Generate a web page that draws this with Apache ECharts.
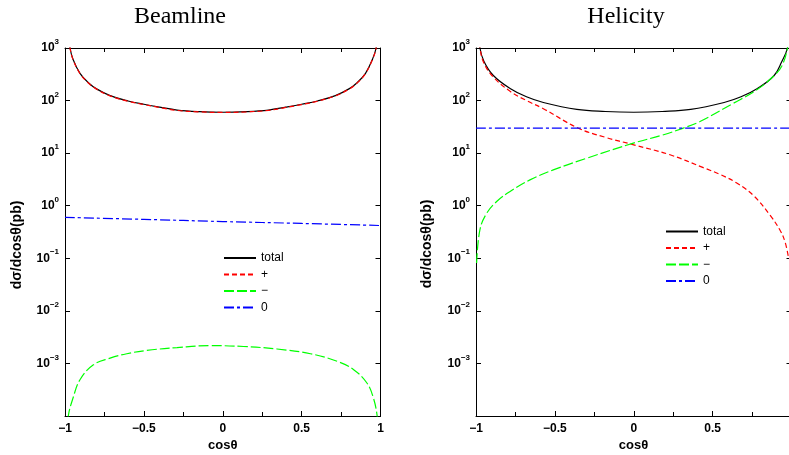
<!DOCTYPE html>
<html><head><meta charset="utf-8">
<script src="https://cdn.jsdelivr.net/npm/echarts@6/dist/echarts.min.js"></script>
<style>html,body{margin:0;padding:0;background:#fff}#c{width:789px;height:455px}</style>
</head><body><div id="c"></div>
<script>
// ---- Beamline panel data ----
const beamTotalX = [-0.99, -0.968, -0.95, -0.905, -0.85, -0.8, -0.714, -0.6, -0.5, -0.4, -0.29, -0.15, 0, 0.15, 0.29, 0.4, 0.5, 0.6, 0.714, 0.8, 0.85, 0.905, 0.95, 0.972, 0.99];
const beamTotal  = [3000, 1000, 620, 330, 216, 167, 124, 98, 85, 75, 66, 61.5, 60, 61.5, 66, 75, 85, 98, 124, 167, 216, 330, 620, 1000, 3000];
const beamPlus   = [2980, 995, 615, 327, 214, 165, 123, 97, 84, 74, 65, 61, 59.5, 61, 65, 74, 84, 97, 123, 165, 214, 327, 615, 995, 2980];
const beamMinusX = [-0.985, -0.979, -0.947, -0.905, -0.82, -0.714, -0.608, -0.481, -0.29, -0.079, 0.132, 0.344, 0.556, 0.725, 0.83, 0.915, 0.955, 0.979, 0.985];
const beamMinus  = [5e-5, 1e-4, 2.3e-4, 4.9e-4, 9.4e-4, 1.26e-3, 1.53e-3, 1.77e-3, 2.0e-3, 2.18e-3, 2.1e-3, 1.88e-3, 1.53e-3, 1.1e-3, 7.6e-4, 4.2e-4, 2.2e-4, 1e-4, 5e-5];
const beamZeroX  = [-1, -0.5, 0, 0.5, 1];
const beamZero   = [0.6, 0.55, 0.5, 0.46, 0.42];

// ---- Helicity panel data ----
const helTotalX = [-0.99, -0.975, -0.95, -0.89, -0.784, -0.68, -0.573, -0.361, -0.18, 0, 0.18, 0.361, 0.573, 0.68, 0.784, 0.89, 0.938, 0.974, 0.99];
const helTotal  = [3000, 1000, 560, 300, 170, 118, 92, 68, 62, 60, 62, 68, 92, 118, 170, 300, 550, 1000, 3000];
const helPlusX  = [-0.99, -0.975, -0.95, -0.89, -0.784, -0.68, -0.573, -0.353, -0.18, 0, 0.23, 0.441, 0.55, 0.653, 0.76, 0.864, 0.93, 0.96, 0.98];
const helPlus   = [2500, 1000, 520, 280, 150, 100, 70, 30, 20, 14.4, 9.3, 5.3, 3.9, 2.7, 1.55, 0.66, 0.33, 0.2, 0.107];
const helMinusX = [-0.996, -0.975, -0.932, -0.869, -0.784, -0.658, -0.51, -0.298, -0.003, 0.18, 0.315, 0.42, 0.632, 0.78, 0.885, 0.938, 0.974, 0.99];
const helMinus  = [0.081, 0.35, 0.72, 1.2, 1.86, 3.1, 4.8, 8.0, 15.5, 22, 30, 40, 89, 160, 290, 450, 980, 2500];
const helZeroX  = [-1, 1];
const helZero   = [30, 30];

// ---- labels ----
const titles = ['Beamline', 'Helicity'];
const legendNames = ['total', '+', '\u2212', '0'];
const yName = 'd\u03c3/dcos\u03b8(pb)';
const xName = 'cos\u03b8';
const yMin = 1e-4, yMax = 1e3;

const FONT = 'Liberation Sans, Arial, sans-serif';
const chart = echarts.init(document.getElementById('c'), null, {renderer: 'canvas'});
const pairs = (xs, ys) => xs.map((x, i) => [x, ys[i]]);
const STY = {
  total: {color: '#000000', type: 'solid'},
  plus:  {color: '#ff0000', type: [5, 3]},
  minus: {color: '#00ff00', type: [10, 3]},
  zero:  {color: '#0000ff', type: [10, 3, 3, 3]}
};
function line(name, g, data, st) {
  return {name, type: 'line', xAxisIndex: g * 2, yAxisIndex: g * 2, data,
    symbol: 'none', showSymbol: false, smooth: 0.4, clip: true, silent: true,
    lineStyle: {color: st.color, type: st.type, width: 1.2}, itemStyle: {color: st.color}};
}
const axLine = {show: true, onZero: false, lineStyle: {color: '#000', width: 1}};
function xAxes(g) {
  const base = {gridIndex: g, type: 'value', min: -1, max: 1, interval: 0.5,
    axisLine: axLine, splitLine: {show: false},
    axisTick: {show: true, inside: true, length: 5, lineStyle: {color: '#000'}},
    minorTick: {show: true, splitNumber: 2, length: 4, lineStyle: {color: '#000'}}};
  return [
    Object.assign({}, base, {position: 'bottom',
      axisLabel: {show: true, margin: 7, color: '#000', fontFamily: FONT, fontWeight: 'bold', fontSize: 12,
        hideOverlap: false, showMaxLabel: true, showMinLabel: true,
        formatter: v => v === 0 ? '0' : (v < 0 ? '\u2212' : '') + String(Math.abs(v))}}),
    Object.assign({}, base, {position: 'top', axisLabel: {show: false}})
  ];
}
function yAxes(g) {
  const base = {gridIndex: g, type: 'log', logBase: 10, min: yMin, max: yMax, splitNumber: 7,
    axisLine: axLine, splitLine: {show: false}, minorTick: {show: false},
    axisTick: {show: true, inside: true, length: 5, lineStyle: {color: '#000'}}};
  return [
    Object.assign({}, base, {position: 'left',
      axisLabel: {show: true, margin: 6, color: '#000',
        formatter: v => {
          const e = Math.round(Math.log10(v));
          if (e === -4) return '';
          return '{b|10}{s|' + (e < 0 ? '\u2212' + (-e) : e) + '}';
        },
        rich: {
          b: {fontFamily: FONT, fontWeight: 'bold', fontSize: 12, color: '#000', lineHeight: 20, verticalAlign: 'middle'},
          s: {fontFamily: FONT, fontWeight: 'bold', fontSize: 8, color: '#000', lineHeight: 10, verticalAlign: 'top'}
        }}}),
    Object.assign({}, base, {position: 'right', axisLabel: {show: false}})
  ];
}
function legendAt(left, top) {
  return {orient: 'vertical', left, top, itemWidth: 32, itemHeight: 12, itemGap: 4.5, selectedMode: false,
    padding: 0, itemStyle: {opacity: 0, borderWidth: 0},
    data: legendNames.slice(), textStyle: {fontFamily: FONT, fontSize: 12, color: '#000'}};
}

const txt = (text, x, y, font, rot) => ({type: 'text', x, y, rotation: rot || 0, silent: true,
  style: {text, font, fill: '#000', align: 'center', verticalAlign: 'middle', textAlign: 'center', textVerticalAlign: 'middle'}});

chart.setOption({
  animation: false,
  backgroundColor: '#fff',
  grid: [
    {left: 65, top: 48, width: 315.5, height: 368, containLabel: false, outerBoundsMode: 'none'},
    {left: 476, top: 48, width: 315.5, height: 368, containLabel: false, outerBoundsMode: 'none'}
  ],
  xAxis: [...xAxes(0), ...xAxes(1)],
  yAxis: [...yAxes(0), ...yAxes(1)],
  legend: [legendAt(223, 252), legendAt(665, 225.5)],
  graphic: [
    txt(titles[0], 180, 17, '24px "Liberation Serif", serif'),
    txt(titles[1], 626, 17, '24px "Liberation Serif", serif'),
    txt(yName, 17.5, 245, 'bold 14px ' + FONT, Math.PI / 2),
    txt(yName, 427, 244, 'bold 14px ' + FONT, Math.PI / 2),
    txt(xName, 222.7, 445, 'bold 13px ' + FONT),
    txt(xName, 633.5, 445, 'bold 13px ' + FONT)
  ],
  series: [
    line(legendNames[0], 0, pairs(beamTotalX, beamTotal), STY.total),
    line(legendNames[1], 0, pairs(beamTotalX, beamPlus), STY.plus),
    line(legendNames[2], 0, pairs(beamMinusX, beamMinus), STY.minus),
    line(legendNames[3], 0, pairs(beamZeroX, beamZero), STY.zero),
    line(legendNames[0], 1, pairs(helTotalX, helTotal), STY.total),
    line(legendNames[1], 1, pairs(helPlusX, helPlus), STY.plus),
    line(legendNames[2], 1, pairs(helMinusX, helMinus), STY.minus),
    line(legendNames[3], 1, pairs(helZeroX, helZero), STY.zero)
  ]
});
</script></body></html>
